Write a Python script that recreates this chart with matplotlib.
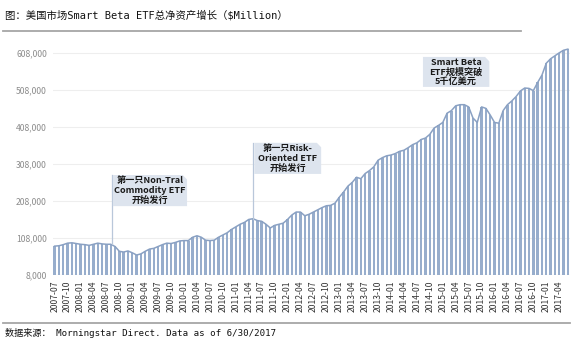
import matplotlib
matplotlib.use("Agg")
import matplotlib.pyplot as plt
from matplotlib.patches import Polygon
from matplotlib.lines import Line2D
import numpy as np
import pandas as pd

# Monthly net assets of US Smart Beta ETFs ($Million), 2007-07 .. 2017-06
months = pd.period_range("2007-07", "2017-06", freq="M").strftime("%Y-%m").tolist()
assets = [
    86000, 87000, 90000, 94000, 95000, 93000, 91000, 90000, 88000, 91000, 94000, 92000,
    91000, 91000, 85000, 72000, 70000, 73000, 68000, 62000, 65000, 72000, 78000, 80000,
    85000, 90000, 94000, 93000, 96000, 100000, 101000, 101000, 110000, 114000, 110000, 102000,
    101000, 102000, 110000, 116000, 122000, 131000, 138000, 145000, 150000, 158000, 160000, 155000,
    153000, 145000, 135000, 142000, 145000, 148000, 158000, 170000, 178000, 178000, 168000, 172000,
    178000, 184000, 190000, 195000, 196000, 202000, 218000, 232000, 248000, 258000, 272000, 268000,
    282000, 290000, 300000, 318000, 325000, 330000, 332000, 336000, 342000, 345000, 352000, 360000,
    365000, 374000, 378000, 388000, 405000, 412000, 420000, 445000, 452000, 465000, 468000, 468000,
    462000, 432000, 420000, 462000, 458000, 440000, 420000, 418000, 452000, 468000, 478000, 490000,
    505000, 513000, 512000, 506000, 528000, 548000, 580000, 592000, 600000, 608000, 615000, 618000,
]
y_ticks = [8000, 108000, 208000, 308000, 408000, 508000, 608000]

# callouts: (text, x0, x1, y0, y1, month index the pointer goes to or None)
callouts = [
    ("第一只Non-Tral\nCommodity ETF\n开始发行", 13.5, 30.7, 194000, 278000, 13),
    ("第一只Risk-\nOriented ETF\n开始发行", 46.3, 61.8, 281000, 365000, 46),
    ("Smart Beta\nETF规模突破\n5千亿美元", 85.4, 100.8, 516000, 597000, None),
]

bar_color = "#97adcc"
line_color = "#8aa1c3"
tick_color = "#8c8c8c"
narrow = ["Liberation Sans Narrow", "Noto Sans CJK SC", "DejaVu Sans"]
mono = ["DejaVu Sans Mono", "Noto Sans CJK SC"]

fig = plt.figure(figsize=(5.82, 3.46), dpi=100)
W, H = 582, 346
ax = fig.add_axes([52.5 / W, (H - 275) / H, (570 - 52.5) / W, (275 - 41) / H])

x = np.arange(len(months))
ax.bar(x, assets, width=0.55, bottom=0, color=bar_color, zorder=2)
ax.plot(x, assets, color=line_color, lw=1.1, zorder=3)

ax.set_xlim(-0.5, len(months) - 0.5)
ax.set_ylim(8000, 640000)
ax.set_yticks(y_ticks)
ax.set_yticklabels([f"{v:,}" for v in y_ticks], family=narrow, fontsize=6.2, color=tick_color)
ax.set_xticks(x[::3])
ax.set_xticklabels(months[::3], rotation=90, family=narrow, fontsize=6.2, color="#333333")
ax.tick_params(axis="both", length=0, pad=4)
ax.grid(axis="y", color="#eeeeee", lw=0.8, zorder=0)
for s in ax.spines.values():
    s.set_visible(False)
ax.axhline(8000, color="#d9d9d9", lw=0.8, zorder=1)

# callout boxes with a clipped top-right corner
for text, x0, x1, y0, y1, idx in callouts:
    cx, cy = 1.0, 12000
    poly = Polygon([(x0, y0), (x1, y0), (x1, y1 - cy), (x1 - cx, y1), (x0, y1)],
                   closed=True, facecolor="#dde4ee", edgecolor="none", zorder=4)
    ax.add_patch(poly)
    ax.text((x0 + x1) / 2, (y0 + y1) / 2, text, ha="center", va="center",
            family=narrow, fontsize=6.6, fontweight="bold", linespacing=1.1,
            color="#1a1a1a", zorder=5)
    if idx is not None:
        ax.plot([x0 - 0.2, x0 - 0.2], [assets[idx], y1], color="#b9c7da", lw=0.9, zorder=3)

fig.text(5 / W, 1 - 15 / H, "图：美国市场Smart Beta ETF总净资产增长（$Million）",
         family=mono, fontsize=7.5, va="center", ha="left", color="#111111")
fig.add_artist(Line2D([3 / W, 521 / W], [1 - 31 / H, 1 - 31 / H], color="#a6a6a6", lw=1.3))

fig.add_artist(Line2D([3 / W, 570 / W], [1 - 323 / H, 1 - 323 / H], color="#a6a6a6", lw=1.3))
fig.text(5 / W, 1 - 333 / H, "数据来源： Morningstar Direct. Data as of 6/30/2017",
         family=mono, fontsize=6.6, va="center", ha="left", color="#111111")

fig.savefig("out.png", dpi=100)
